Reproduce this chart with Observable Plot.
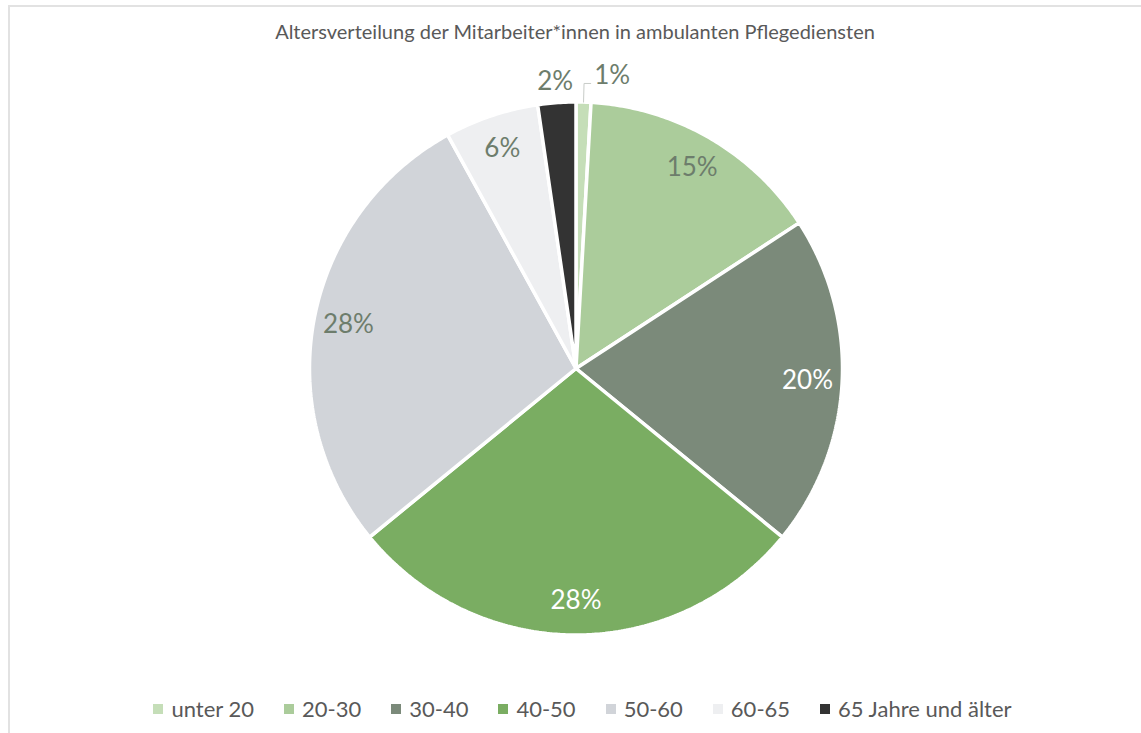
<!DOCTYPE html>
<html>
<head>
<meta charset="utf-8">
<script src="https://cdn.jsdelivr.net/npm/d3@7"></script>
<script src="https://cdn.jsdelivr.net/npm/@observablehq/plot@0.6"></script>
<style>
  html, body { margin: 0; padding: 0; background: #fff; overflow: hidden; }
  #wrap { position: relative; width: 1141px; height: 733px; font-family: Lato, "Open Sans", sans-serif; }
  #frame { position: absolute; left: 8px; top: 5px; width: 1200px; height: 800px; border: 2px solid #e2e2e2; box-sizing: border-box; }
  #title { position: absolute; left: 0; top: 19px; width: 1141px; text-align: center; font-size: 20px; color: #595959; padding-left: 9px; box-sizing: border-box; }
  #chart { position: absolute; left: 0; top: 0; }
  #legend { position: absolute; left: 0; top: 695px; width: 1141px; display: flex; justify-content: center; padding-left: 24px; box-sizing: border-box; font-size: 22px; color: #595959; }
  .item { display: flex; align-items: center; margin: 0 15px; }
  .sw { width: 10px; height: 10px; margin-right: 8px; }
</style>
</head>
<body>
<div id="wrap">
  <div id="frame"></div>
  <div id="chart"></div>
  <div id="title">Altersverteilung der Mitarbeiter*innen in ambulanten Pflegediensten</div>
  <div id="legend"></div>
</div>
<script>
// Data
const categories = ["unter 20", "20-30", "30-40", "40-50", "50-60", "60-65", "65 Jahre und älter"];
const values = [0.9, 14.9, 20.1, 28.2, 27.9, 5.7, 2.3];
const labels = ["1%", "15%", "20%", "28%", "28%", "6%", "2%"];

// Styles
const colors = ["#c5deb8", "#abcc9b", "#7b8a7a", "#7aad62", "#d1d4d9", "#eeeff1", "#333333"];
const labelColors = ["#6d7d6c", "#6d7d6c", "#ffffff", "#ffffff", "#6d7d6c", "#6d7d6c", "#6d7d6c"];

const total = d3.sum(values);
const pie = d3.pie().sort(null).value(d => d)(values);

// angle measured clockwise from top; unit circle coordinates
const pt = (a, r) => [r * Math.sin(a), r * Math.cos(a)];

const R = 1;
const polys = [];
pie.forEach((p, i) => {
  polys.push({cat: categories[i], x: 0, y: 0});
  const n = Math.max(2, Math.ceil((p.endAngle - p.startAngle) / 0.01));
  for (let k = 0; k <= n; k++) {
    const a = p.startAngle + (p.endAngle - p.startAngle) * k / n;
    const [x, y] = pt(a, R);
    polys.push({cat: categories[i], x, y});
  }
  polys.push({cat: categories[i], x: 0, y: 0});
});

const labelData = pie.map((p, i) => {
  const mid = (p.startAngle + p.endAngle) / 2;
  const small = values[i] / total < 0.03;
  const rr = small ? (mid < Math.PI ? 1.1 : 1.08) : 0.87;
  const [x, y] = pt(mid, rr);
  return {text: labels[i], x, y, fill: labelColors[i], anchor: small && mid < Math.PI ? "start" : "middle", mid, small};
});

// leader line for small slice on the right side
const leader = [];
labelData.forEach((d, i) => {
  if (d.small && d.mid < Math.PI) {
    const [x0, y0] = pt(d.mid, 1.0);
    const [x1, y1] = pt(d.mid, 1.07);
    leader.push({x: x0, y: y0, k: i}, {x: x1, y: y1, k: i}, {x: x1 + 0.025, y: y1, k: i});
  }
});

const cx = 575.5, cy = 368, Rpx = 266.5;
const chart = Plot.plot({
  width: 1141,
  height: 733,
  margin: 0,
  x: {domain: [-1, 1], range: [cx - Rpx, cx + Rpx], axis: null},
  y: {domain: [-1, 1], range: [cy + Rpx, cy - Rpx], axis: null},
  color: {domain: categories, range: colors},
  style: {fontFamily: "Lato, 'Open Sans', sans-serif", background: "transparent"},
  marks: [
    Plot.line(polys, {x: "x", y: "y", z: "cat", fill: "cat", stroke: "white", strokeWidth: 3.5, strokeLinejoin: "miter", curve: "linear"}),
    Plot.line(leader, {x: "x", y: "y", z: "k", stroke: "#c8ccc8", strokeWidth: 1}),
    Plot.text(labelData.filter(d => d.anchor === "middle"), {x: "x", y: "y", text: "text", fill: "fill", fontSize: 26, textAnchor: "middle"}),
    Plot.text(labelData.filter(d => d.anchor === "start"), {x: "x", y: "y", text: "text", fill: "fill", fontSize: 26, textAnchor: "start", dx: 10})
  ]
});
document.getElementById("chart").appendChild(chart);

// Legend
const legend = d3.select("#legend");
categories.forEach((c, i) => {
  const it = legend.append("div").attr("class", "item");
  it.append("div").attr("class", "sw").style("background", colors[i]);
  it.append("span").text(c);
});
</script>
</body>
</html>
